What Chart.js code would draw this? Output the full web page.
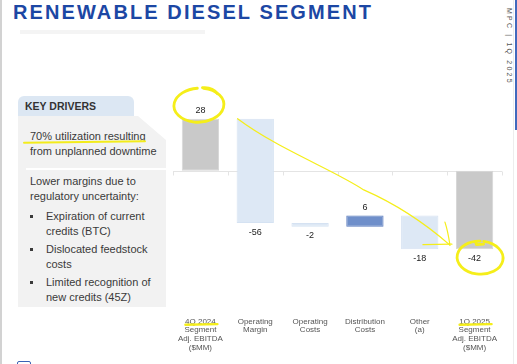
<!DOCTYPE html>
<html>
<head>
<meta charset="utf-8">
<script src="https://cdn.jsdelivr.net/npm/chart.js@4"></script>
<style>
  html, body { margin:0; padding:0; }
  body { width:517px; height:364px; position:relative; overflow:hidden; background:#fff;
         font-family:"Liberation Sans", Arial, sans-serif; }
  .abs { position:absolute; }
  #title { left:13px; top:2px; font-size:20px; line-height:20px; font-weight:bold; color:#1c47a4;
           letter-spacing:2.1px; white-space:nowrap; }
  #titlebar { left:20px; top:30px; width:185px; height:4px; background:#f4f4f4; }
  #leftedge { left:0; top:0; width:2px; height:364px; background:#d2d2d2; }
  #rightgrey { left:513px; top:0; width:1px; height:364px; background:#ededed; }
  #rightblue { left:515px; top:0; width:2px; height:130px; background:#4169bd; }
  #side { left:513px; top:8px; font-size:7px; line-height:7px; color:#555; letter-spacing:2.2px;
          transform:rotate(90deg); transform-origin:0 0; white-space:nowrap; }
  #tab { left:18px; top:96px; width:116px; height:20px; background:#dce7f3; border-radius:6px 6px 0 0; }
  #tab span { position:absolute; left:7px; top:0; line-height:20px; font-size:10.5px; font-weight:bold; color:#333; }
  #box { left:18px; top:116px; width:148px; height:191px; background:#f2f2f2;
         clip-path:polygon(0 0, 120px 0, 148px 24px, 148px 100%, 0 100%); }
  #divider { left:26px; top:168px; width:140px; height:2px; background:#fff; }
  .txt { font-size:11px; line-height:15px; color:#3a3a3a; white-space:nowrap; }
  .bullet { width:3px; height:3px; background:#3a3a3a; }
  #chartbox { left:170px; top:80px; width:347px; height:284px; }
  #icon { left:17px; top:361px; width:12px; height:10px; border:1px solid #3a62b5; border-radius:2px; }
</style>
</head>
<body>
<div id="leftedge" class="abs"></div>
<div id="rightgrey" class="abs"></div>
<div id="rightblue" class="abs"></div>
<div id="title" class="abs">RENEWABLE DIESEL SEGMENT</div>
<div id="titlebar" class="abs"></div>
<div id="side" class="abs">MPC | 1Q 2025</div>

<div id="tab" class="abs"><span>KEY DRIVERS</span></div>
<div id="box" class="abs"></div>
<div id="divider" class="abs"></div>
<div class="abs txt" style="left:30px; top:129px;"><span style="position:relative;">70% utilization resulting<span class="abs" style="left:-7px; right:0; top:11px; height:2px; background:#f3ec1c; border-radius:1px; transform:rotate(-0.8deg);"></span></span><br>from unplanned downtime</div>
<div class="abs txt" style="left:30px; top:174px;">Lower margins due to<br>regulatory uncertainty:</div>
<div class="abs bullet" style="left:30px; top:215px;"></div>
<div class="abs txt" style="left:46px; top:208.5px;">Expiration of current<br>credits (BTC)</div>
<div class="abs bullet" style="left:30px; top:248px;"></div>
<div class="abs txt" style="left:46px; top:242px;">Dislocated feedstock<br>costs</div>
<div class="abs bullet" style="left:30px; top:281px;"></div>
<div class="abs txt" style="left:46px; top:275px;">Limited recognition of<br>new credits (45Z)</div>
<div id="icon" class="abs"></div>

<div id="chartbox" class="abs"><canvas id="c"></canvas></div>

<script>
// ---- data ----
const categories = [
  ['4Q 2024', 'Segment', 'Adj. EBITDA', '($MM)'],
  ['Operating', 'Margin'],
  ['Operating', 'Costs'],
  ['Distribution', 'Costs'],
  ['Other', '(a)'],
  ['1Q 2025', 'Segment', 'Adj. EBITDA', '($MM)']
];
const values = [28, -56, -2, 6, -18, -42];
const barKinds = ['total', 'change', 'change', 'change', 'change', 'total'];

// ---- build floating bars ----
let running = 0;
const ranges = values.map((v, i) => {
  if (barKinds[i] === 'total') { running = v; return [0, v]; }
  const r = [running, running + v]; running += v; return r;
});
const fills = values.map((v, i) => barKinds[i] === 'total' ? '#c9c9c9' : (v < 0 ? '#dde8f5' : '#6f8fca'));
const borders = values.map((v, i) => barKinds[i] === 'total' ? '#d6d6d6' : (v < 0 ? '#d5e2f2' : '#5a7bbd'));

const YEL = '#f5ee1a';

const waterfallPlugin = {
  id: 'waterfallExtras',
  beforeDatasetsDraw(chart) {
    const ctx = chart.ctx, x = chart.scales.x, y = chart.scales.y;
    const y0 = Math.round(y.getPixelForValue(0)) + 0.5;
    ctx.save();
    ctx.strokeStyle = '#e4e4e4'; ctx.lineWidth = 1;
    ctx.beginPath();
    ctx.moveTo(chart.chartArea.left, y0); ctx.lineTo(chart.chartArea.right, y0);
    const step = (x.getPixelForValue(1) - x.getPixelForValue(0));
    for (let i = 0; i <= categories.length; i++) {
      const bx = Math.round(x.getPixelForValue(0) - step / 2 + i * step) + 0.5;
      ctx.moveTo(bx, y0); ctx.lineTo(bx, y0 + 4);
    }
    ctx.stroke();
    ctx.restore();
  },
  afterDatasetsDraw(chart) {
    const ctx = chart.ctx;
    const meta = chart.getDatasetMeta(0);
    ctx.save();
    ctx.font = '9px "Liberation Sans", Arial, sans-serif';
    ctx.fillStyle = '#222';
    ctx.textAlign = 'center';
    ctx.textBaseline = 'middle';
    const labelPos = [];
    meta.data.forEach((el, i) => {
      const top = Math.min(el.y, el.base), bot = Math.max(el.y, el.base);
      const v = values[i];
      const ly = v >= 0 ? top - 8 : bot + 9;
      ctx.fillText(String(v), el.x, ly);
      labelPos.push({ x: el.x, y: ly, top, bot, w: el.width });
    });
    ctx.restore();

    // ---- yellow hand annotations, anchored to chart elements ----
    ctx.save();
    ctx.strokeStyle = YEL; ctx.lineCap = 'round'; ctx.lineJoin = 'round';
    const a = labelPos[0];
    ctx.lineWidth = 2.8;
    ctx.beginPath();
    ctx.ellipse(a.x - 1.5, a.y - 5.5, 25, 17, -0.05, -1.35, -1.35 + Math.PI * 2 - 0.25);
    ctx.stroke();
    ctx.beginPath();
    ctx.moveTo(a.x + 2, a.y - 23); ctx.quadraticCurveTo(a.x + 12, a.y - 24, a.x + 17, a.y - 17);
    ctx.stroke();
    const b = labelPos[labelPos.length - 1];
    ctx.beginPath();
    ctx.ellipse(b.x + 5.5, b.y - 0.5, 23, 16.5, 0.05, -1.45, -1.45 + Math.PI * 2 - 0.15);
    ctx.stroke();
    ctx.beginPath();
    ctx.moveTo(b.x + 1, b.y - 16); ctx.lineTo(b.x + 2, b.y - 13.5); ctx.lineTo(b.x + 9, b.y - 14);
    ctx.stroke();
    const s = labelPos[1], e = labelPos[labelPos.length - 1];
    const sx = s.x - s.w / 2 + 1, sy = s.top;
    const ex = e.x - e.w / 2 - 6, ey = e.bot - 4;
    ctx.lineWidth = 1.2;
    ctx.beginPath();
    ctx.moveTo(sx, sy);
    ctx.bezierCurveTo(sx + 40, sy + 30, (sx + ex) / 2 - 10, (sy + ey) / 2 - 12, (sx + ex) / 2 + 20, (sy + ey) / 2 + 8);
    ctx.quadraticCurveTo(ex - 40, ey - 35, ex, ey);
    ctx.stroke();
    ctx.beginPath();
    ctx.moveTo(ex - 5, ey - 23); ctx.quadraticCurveTo(ex - 2, ey - 14, ex, ey);
    ctx.moveTo(ex - 27, ey - 0.5); ctx.lineTo(ex + 2, ey - 1);
    ctx.stroke();
    const xs = chart.scales.x;
    const uy = xs.top + 32.5;
    ctx.lineWidth = 2.4;
    [0, categories.length - 1].forEach(i => {
      const cx = xs.getPixelForValue(i);
      ctx.beginPath();
      ctx.moveTo(cx - 15, uy + 0.3); ctx.lineTo(cx + 17, uy - 0.4);
      ctx.stroke();
    });
    ctx.restore();
  }
};

new Chart(document.getElementById('c'), {
  type: 'bar',
  data: {
    labels: categories,
    datasets: [{
      data: ranges,
      backgroundColor: fills,
      borderColor: borders,
      borderWidth: 1,
      borderSkipped: false,
      barPercentage: 0.68,
      categoryPercentage: 1
    }]
  },
  options: {
    responsive: true,
    maintainAspectRatio: false,
    animation: false,
    layout: { autoPadding: false, padding: { left: 3, right: 15, top: 7, bottom: 0 } },
    plugins: { legend: { display: false }, tooltip: { enabled: false } },
    scales: {
      y: { display: false, min: -65, max: 45 },
      x: {
        grid: { display: false, drawTicks: false },
        border: { display: false },
        ticks: {
          padding: 25, color: '#555', maxRotation: 0, autoSkip: false,
          font: { size: 8, family: '"Liberation Sans", Arial, sans-serif', lineHeight: 1.1 }
        },
        afterFit(s) { s.height = 72; s.paddingLeft = 0; s.paddingRight = 0; }
      }
    }
  },
  plugins: [waterfallPlugin]
});
</script>
</body>
</html>
